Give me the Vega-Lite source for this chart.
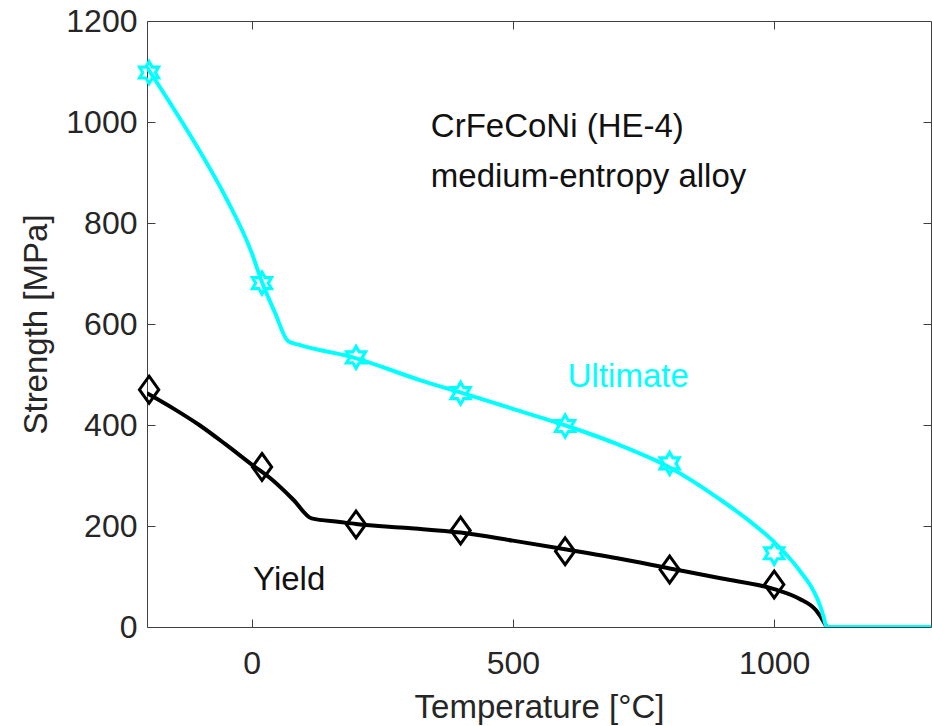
{
  "$schema": "https://vega.github.io/schema/vega-lite/v6.json",
  "autosize": "none",
  "width": 784,
  "height": 606,
  "padding": {"left": 147, "top": 21, "right": 1, "bottom": 99},
  "background": "white",
  "config": {
    "font": "Liberation Sans",
    "view": {"stroke": "#404040", "strokeWidth": 1},
    "axis": {
      "grid": false,
      "domain": false,
      "tickColor": "#404040",
      "tickWidth": 1,
      "tickSize": -8,
      "labelFont": "Liberation Sans",
      "labelFontSize": 32,
      "labelColor": "#262626",
      "titleFont": "Liberation Sans",
      "titleFontSize": 33,
      "titleFontWeight": "normal",
      "titleColor": "#262626"
    }
  },
  "datasets": {
    "curves": [
      {"series": "Yield", "T": -200, "S": 463},
      {"series": "Yield", "T": -150, "S": 433},
      {"series": "Yield", "T": -100, "S": 400},
      {"series": "Yield", "T": -50, "S": 362},
      {"series": "Yield", "T": 0, "S": 322},
      {"series": "Yield", "T": 40, "S": 291},
      {"series": "Yield", "T": 80, "S": 252},
      {"series": "Yield", "T": 115, "S": 215},
      {"series": "Yield", "T": 169, "S": 208},
      {"series": "Yield", "T": 200, "S": 204},
      {"series": "Yield", "T": 300, "S": 196},
      {"series": "Yield", "T": 400, "S": 187},
      {"series": "Yield", "T": 500, "S": 171},
      {"series": "Yield", "T": 600, "S": 154},
      {"series": "Yield", "T": 700, "S": 136},
      {"series": "Yield", "T": 800, "S": 116},
      {"series": "Yield", "T": 900, "S": 96},
      {"series": "Yield", "T": 1000, "S": 75},
      {"series": "Yield", "T": 1048, "S": 56},
      {"series": "Yield", "T": 1080, "S": 33},
      {"series": "Yield", "T": 1096, "S": 8},
      {"series": "Yield", "T": 1100, "S": 0},
      {"series": "Ultimate", "T": -200, "S": 1108},
      {"series": "Ultimate", "T": -150, "S": 1028},
      {"series": "Ultimate", "T": -100, "S": 944},
      {"series": "Ultimate", "T": -50, "S": 852},
      {"series": "Ultimate", "T": 0, "S": 742},
      {"series": "Ultimate", "T": 20, "S": 683},
      {"series": "Ultimate", "T": 45, "S": 622},
      {"series": "Ultimate", "T": 70, "S": 566},
      {"series": "Ultimate", "T": 90, "S": 559},
      {"series": "Ultimate", "T": 197, "S": 533},
      {"series": "Ultimate", "T": 322, "S": 489},
      {"series": "Ultimate", "T": 404, "S": 463},
      {"series": "Ultimate", "T": 500, "S": 432},
      {"series": "Ultimate", "T": 601, "S": 399},
      {"series": "Ultimate", "T": 700, "S": 362},
      {"series": "Ultimate", "T": 800, "S": 316},
      {"series": "Ultimate", "T": 900, "S": 250},
      {"series": "Ultimate", "T": 950, "S": 212},
      {"series": "Ultimate", "T": 1000, "S": 168},
      {"series": "Ultimate", "T": 1050, "S": 110},
      {"series": "Ultimate", "T": 1075, "S": 72},
      {"series": "Ultimate", "T": 1088, "S": 42},
      {"series": "Ultimate", "T": 1095, "S": 18},
      {"series": "Ultimate", "T": 1100, "S": 0},
      {"series": "Ultimate", "T": 1300, "S": 0}
    ],
    "points": [
      {"series": "Yield", "T": -196, "S": 470},
      {"series": "Yield", "T": 20, "S": 317},
      {"series": "Yield", "T": 200, "S": 203},
      {"series": "Yield", "T": 400, "S": 191},
      {"series": "Yield", "T": 600, "S": 150},
      {"series": "Yield", "T": 800, "S": 114},
      {"series": "Yield", "T": 1000, "S": 84},
      {"series": "Ultimate", "T": -196, "S": 1098},
      {"series": "Ultimate", "T": 20, "S": 681},
      {"series": "Ultimate", "T": 200, "S": 534},
      {"series": "Ultimate", "T": 400, "S": 463},
      {"series": "Ultimate", "T": 600, "S": 398},
      {"series": "Ultimate", "T": 800, "S": 324},
      {"series": "Ultimate", "T": 1000, "S": 146}
    ],
    "labels": [
      {"series": "Note", "text": "CrFeCoNi (HE-4)", "T": 343, "S": 970},
      {"series": "Note", "text": "medium-entropy alloy", "T": 343, "S": 872},
      {"series": "Yield", "text": "Yield", "T": 3, "S": 73},
      {"series": "Ultimate", "text": "Ultimate", "T": 605, "S": 475}
    ]
  },
  "resolve": {"axis": {"x": "independent", "y": "independent"}},
  "layer": [
    {
      "data": {"name": "curves"},
      "transform": [{"filter": "datum.series === 'Yield'"}],
      "mark": {"type": "line", "interpolate": "monotone", "strokeWidth": 4, "color": "#000000", "clip": true},
      "encoding": {
        "x": {"field": "T", "type": "quantitative", "scale": {"domain": [-200, 1300], "nice": false, "zero": false},
          "axis": {"orient": "bottom", "values": [0, 500, 1000], "format": "d", "title": "Temperature [°C]", "labelPadding": 29, "titleBaseline": "alphabetic", "titleY": 90}},
        "y": {"field": "S", "type": "quantitative", "scale": {"domain": [0, 1200], "nice": false, "zero": false},
          "axis": {"orient": "left", "values": [0, 200, 400, 600, 800, 1000, 1200], "format": "d", "title": "Strength [MPa]", "labelPadding": 18, "titleBaseline": "alphabetic", "titleX": -101}}
      }
    },
    {
      "data": {"name": "curves"},
      "transform": [{"filter": "datum.series === 'Ultimate'"}],
      "mark": {"type": "line", "interpolate": "monotone", "strokeWidth": 4, "color": "#00FFFF", "clip": true},
      "encoding": {
        "x": {"field": "T", "type": "quantitative", "axis": {"orient": "top", "values": [0, 500, 1000], "labels": false, "title": null}},
        "y": {"field": "S", "type": "quantitative", "axis": {"orient": "right", "values": [200, 400, 600, 800, 1000], "labels": false, "title": null}}
      }
    },
    {
      "data": {"name": "points"},
      "transform": [{"filter": "datum.series === 'Yield'"}],
      "mark": {"type": "point", "shape": "M0,-1L0.72,0L0,1L-0.72,0Z", "size": 720, "filled": false, "strokeWidth": 3, "color": "#000000", "opacity": 1},
      "encoding": {
        "x": {"field": "T", "type": "quantitative", "axis": null},
        "y": {"field": "S", "type": "quantitative", "axis": null}
      }
    },
    {
      "data": {"name": "points"},
      "transform": [{"filter": "datum.series === 'Ultimate'"}],
      "mark": {"type": "point", "shape": "M0,-1L0.289,-0.5L0.866,-0.5L0.577,0L0.866,0.5L0.289,0.5L0,1L-0.289,0.5L-0.866,0.5L-0.577,0L-0.866,-0.5L-0.289,-0.5Z", "size": 480, "filled": false, "strokeWidth": 3.2, "color": "#00FFFF", "opacity": 1},
      "encoding": {
        "x": {"field": "T", "type": "quantitative", "axis": null},
        "y": {"field": "S", "type": "quantitative", "axis": null}
      }
    },
    {
      "data": {"name": "labels"},
      "transform": [{"filter": "datum.series !== 'Ultimate'"}],
      "mark": {"type": "text", "align": "left", "baseline": "alphabetic", "font": "Liberation Sans", "fontSize": 33, "color": "#111111"},
      "encoding": {
        "x": {"field": "T", "type": "quantitative", "axis": null},
        "y": {"field": "S", "type": "quantitative", "axis": null},
        "text": {"field": "text"}
      }
    },
    {
      "data": {"name": "labels"},
      "transform": [{"filter": "datum.series === 'Ultimate'"}],
      "mark": {"type": "text", "align": "left", "baseline": "alphabetic", "font": "Liberation Sans", "fontSize": 33, "color": "#00FFFF"},
      "encoding": {
        "x": {"field": "T", "type": "quantitative", "axis": null},
        "y": {"field": "S", "type": "quantitative", "axis": null},
        "text": {"field": "text"}
      }
    }
  ]
}
